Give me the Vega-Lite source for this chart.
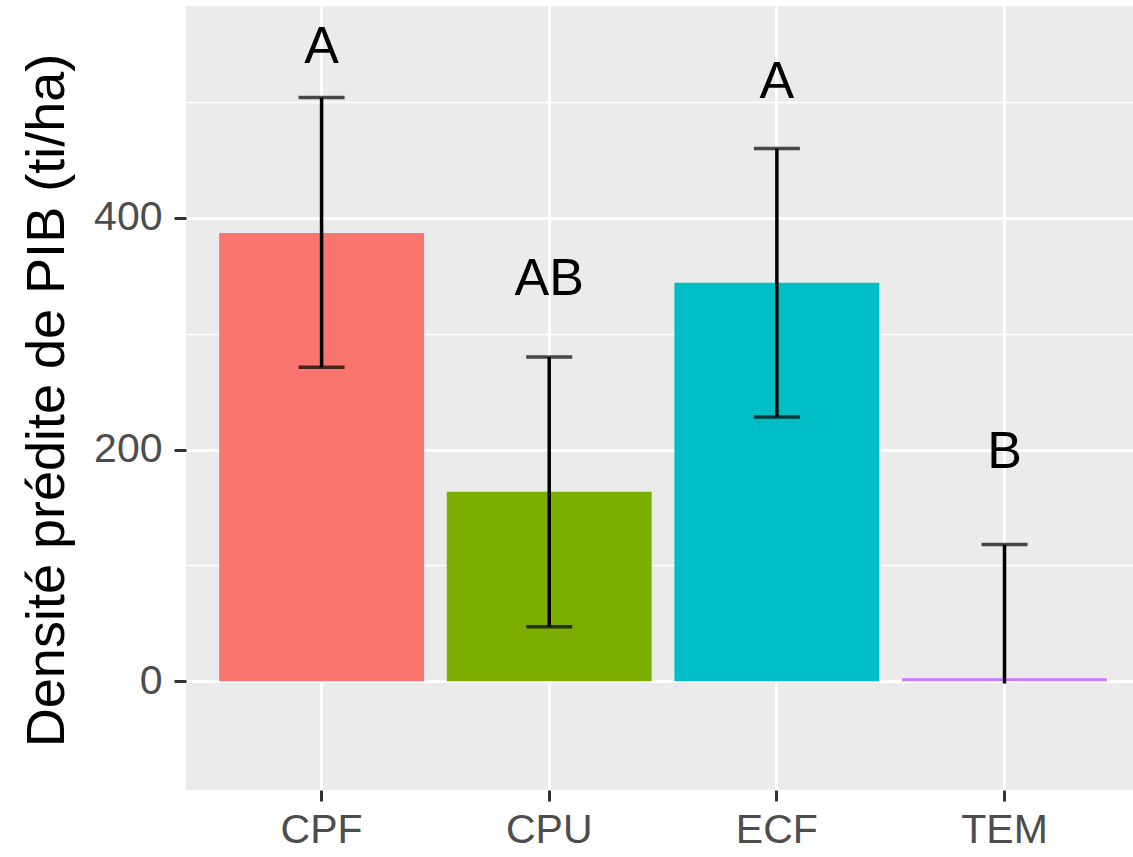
{
  "$schema": "https://vega.github.io/schema/vega-lite/v6.json",
  "autosize": {"type": "none"},
  "padding": {"left": 186, "top": 6, "right": 0, "bottom": 67},
  "width": 947,
  "height": 784,
  "background": "white",
  "config": {
    "view": {"fill": "#EBEBEB", "stroke": null},
    "font": "Liberation Sans"
  },
  "data": {
    "values": [
      {"site": "CPF", "mean": 387, "lo": 271, "hi": 504, "cap_lo": 271, "letter": "A", "letter_y": 548},
      {"site": "CPU", "mean": 163.5, "lo": 47, "hi": 280, "cap_lo": 47, "letter": "AB", "letter_y": 347},
      {"site": "ECF", "mean": 344, "lo": 228, "hi": 460, "cap_lo": 228, "letter": "A", "letter_y": 517},
      {"site": "TEM", "mean": 2.5, "lo": -2, "hi": 118, "cap_lo": null, "letter": "B", "letter_y": 198}
    ]
  },
  "encoding": {
    "x": {
      "field": "site",
      "type": "nominal",
      "scale": {"paddingInner": 0.1, "paddingOuter": 0.13, "align": 0.56},
      "axis": {
        "title": null,
        "labelAngle": 0,
        "labelFontSize": 41,
        "labelColor": "#4D4D4D",
        "labelPadding": 9,
        "tickSize": 11,
        "tickWidth": 3,
        "tickColor": "#333333",
        "domain": false,
        "grid": true,
        "gridColor": "white",
        "gridWidth": 3,
        "zindex": 0
      }
    }
  },
  "layer": [
    {
      "mark": {"type": "bar"},
      "encoding": {
        "y": {
          "field": "mean",
          "type": "quantitative",
          "scale": {"domain": [-94, 583], "nice": false, "zero": false},
          "axis": {
            "title": "Densité prédite de PIB (ti/ha)",
            "titleFontSize": 54,
            "titleFontWeight": "normal",
            "titleColor": "black",
            "titleX": -139,
            "titleY": 394,
            "titleBaseline": "middle",
            "values": [-100, 0, 100, 200, 300, 400, 500],
            "labelExpr": "datum.value % 200 === 0 ? datum.label : ''",
            "labelFontSize": 41,
            "labelColor": "#4D4D4D",
            "labelPadding": 12,
            "tickSize": 12,
            "tickWidth": 3,
            "tickColor": {"condition": {"test": "datum.value % 200 === 0", "value": "#333333"}, "value": "transparent"},
            "domain": false,
            "grid": true,
            "gridColor": "white",
            "gridWidth": {"condition": {"test": "datum.value % 200 === 0", "value": 3}, "value": 1.5},
            "zindex": 0
          }
        },
        "color": {
          "field": "site",
          "type": "nominal",
          "scale": {"domain": ["CPF", "CPU", "ECF", "TEM"], "range": ["#F8766D", "#7CAE00", "#00BFC4", "#C77CFF"]},
          "legend": null
        }
      }
    },
    {
      "mark": {"type": "rule", "color": "black", "strokeWidth": 3.5},
      "encoding": {
        "y": {"field": "lo", "type": "quantitative"},
        "y2": {"field": "hi"}
      }
    },
    {
      "mark": {"type": "tick", "color": "black", "thickness": 3.5, "size": 46},
      "encoding": {
        "y": {"field": "hi", "type": "quantitative"}
      }
    },
    {
      "mark": {"type": "tick", "color": "black", "thickness": 3.5, "size": 46},
      "encoding": {
        "y": {"field": "cap_lo", "type": "quantitative"}
      }
    },
    {
      "mark": {"type": "text", "fontSize": 52, "baseline": "middle", "align": "center", "color": "black"},
      "encoding": {
        "y": {"field": "letter_y", "type": "quantitative"},
        "text": {"field": "letter"}
      }
    }
  ]
}
